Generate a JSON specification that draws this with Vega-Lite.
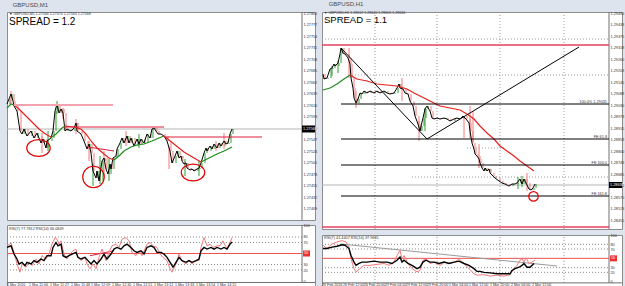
{
"$schema":"https://vega.github.io/schema/vega-lite/v6.json",
"background":"#dde4ed",
"padding":{"left":3,"top":1,"right":5,"bottom":3},
"spacing":1,
"config":{
 "view":{"fill":"#ffffff","stroke":"#8c8c8c","strokeWidth":1},
 "axis":{"domain":false,"ticks":false,"tickSize":0,"grid":false,"labelFontSize":3.8,"labelColor":"#333333","labelFont":"Liberation Sans","labelPadding":-12,"labelAlign":"left","labelBaseline":"middle","minExtent":0,"maxExtent":0,"labelOverlap":false,"labelFlush":false,"labelBound":false},
 "text":{"font":"Liberation Sans"}
},
"datasets":{
 "lp":[{"x":0,"c":1.27618},{"x":2,"c":1.27628},{"x":4,"c":1.27638},{"x":6,"c":1.27624},{"x":7,"c":1.27614},{"x":10,"c":1.27604},{"x":13,"c":1.27564},{"x":15,"c":1.27558},{"x":17,"c":1.27568},{"x":20,"c":1.27554},{"x":24,"c":1.27564},{"x":27,"c":1.2755},{"x":30,"c":1.2756},{"x":34,"c":1.2754},{"x":36,"c":1.27548},{"x":39,"c":1.2753},{"x":40,"c":1.27544},{"x":44,"c":1.2755},{"x":46,"c":1.27564},{"x":48,"c":1.27604},{"x":50,"c":1.27618},{"x":52,"c":1.276},{"x":54,"c":1.27608},{"x":56,"c":1.276},{"x":58,"c":1.27564},{"x":60,"c":1.27568},{"x":64,"c":1.27564},{"x":67,"c":1.2757},{"x":69,"c":1.2758},{"x":70,"c":1.27564},{"x":74,"c":1.27558},{"x":77,"c":1.27544},{"x":80,"c":1.27528},{"x":82,"c":1.27538},{"x":84,"c":1.2752},{"x":86,"c":1.27484},{"x":89,"c":1.2747},{"x":90,"c":1.27484},{"x":92,"c":1.27464},{"x":95,"c":1.27504},{"x":97,"c":1.2751},{"x":99,"c":1.27488},{"x":101,"c":1.27478},{"x":103,"c":1.27498},{"x":104,"c":1.27488},{"x":106,"c":1.2751},{"x":109,"c":1.27514},{"x":110,"c":1.27528},{"x":113,"c":1.2754},{"x":115,"c":1.2755},{"x":117,"c":1.2754},{"x":120,"c":1.27554},{"x":122,"c":1.2754},{"x":124,"c":1.2755},{"x":127,"c":1.27534},{"x":130,"c":1.27548},{"x":132,"c":1.27538},{"x":134,"c":1.27548},{"x":137,"c":1.2754},{"x":140,"c":1.27558},{"x":143,"c":1.2755},{"x":145,"c":1.27568},{"x":147,"c":1.2757},{"x":149,"c":1.27564},{"x":151,"c":1.27558},{"x":154,"c":1.27558},{"x":157,"c":1.27554},{"x":160,"c":1.27544},{"x":163,"c":1.27524},{"x":165,"c":1.275},{"x":168,"c":1.27514},{"x":170,"c":1.27524},{"x":172,"c":1.2751},{"x":174,"c":1.27514},{"x":175,"c":1.27504},{"x":177,"c":1.27498},{"x":179,"c":1.275},{"x":180,"c":1.2749},{"x":183,"c":1.27486},{"x":185,"c":1.27488},{"x":187,"c":1.27484},{"x":190,"c":1.27488},{"x":192,"c":1.2749},{"x":194,"c":1.275},{"x":197,"c":1.2752},{"x":199,"c":1.2753},{"x":200,"c":1.27524},{"x":203,"c":1.27534},{"x":205,"c":1.27528},{"x":207,"c":1.27538},{"x":210,"c":1.2753},{"x":212,"c":1.2754},{"x":214,"c":1.27534},{"x":217,"c":1.27544},{"x":219,"c":1.27538},{"x":221,"c":1.2754},{"x":223,"c":1.27558},{"x":225,"c":1.27568}],
 "lw":[{"x":4,"h":1.27644,"l":1.27618,"d":"dn"},{"x":50,"h":1.27624,"l":1.27598,"d":"up"},{"x":56,"h":1.2761,"l":1.27588,"d":"dn"},{"x":69,"h":1.27588,"l":1.27558,"d":"dn"},{"x":86,"h":1.27498,"l":1.27454,"d":"up"},{"x":93,"h":1.27514,"l":1.27458,"d":"up"},{"x":97,"h":1.27524,"l":1.27474,"d":"dn"},{"x":102,"h":1.27508,"l":1.27464,"d":"up"},{"x":119,"h":1.27564,"l":1.27534,"d":"dn"},{"x":132,"h":1.27558,"l":1.2753,"d":"up"},{"x":41,"h":1.27564,"l":1.27524,"d":"up"},{"x":35,"h":1.27554,"l":1.2752,"d":"dn"},{"x":82,"h":1.27544,"l":1.27504,"d":"dn"},{"x":162,"h":1.27534,"l":1.27488,"d":"dn"},{"x":178,"h":1.27508,"l":1.27474,"d":"up"},{"x":192,"h":1.27504,"l":1.27474,"d":"up"},{"x":209,"h":1.27544,"l":1.27524,"d":"dn"},{"x":217,"h":1.2756,"l":1.27528,"d":"dn"}],
 "lma":[{"x":0,"p":1.2761,"s":"A","d":"up"},{"x":4,"p":1.27618,"s":"A","d":"up"},{"x":7,"p":1.27616,"s":"A","d":"up"},
  {"x":7,"p":1.27616,"s":"B","d":"dn"},{"x":12,"p":1.27608,"s":"B","d":"dn"},{"x":17,"p":1.27598,"s":"B","d":"dn"},{"x":22,"p":1.27588,"s":"B","d":"dn"},{"x":27,"p":1.27578,"s":"B","d":"dn"},{"x":32,"p":1.27568,"s":"B","d":"dn"},{"x":37,"p":1.2756,"s":"B","d":"dn"},{"x":42,"p":1.27554,"s":"B","d":"dn"},{"x":45,"p":1.27552,"s":"B","d":"dn"},
  {"x":45,"p":1.27552,"s":"C","d":"up"},{"x":49,"p":1.27558,"s":"C","d":"up"},{"x":52,"p":1.27564,"s":"C","d":"up"},{"x":55,"p":1.2757,"s":"C","d":"up"},{"x":58,"p":1.27574,"s":"C","d":"up"},
  {"x":58,"p":1.27574,"s":"D","d":"dn"},{"x":67,"p":1.27572,"s":"D","d":"dn"},{"x":74,"p":1.27568,"s":"D","d":"dn"},{"x":79,"p":1.27558,"s":"D","d":"dn"},{"x":84,"p":1.27544,"s":"D","d":"dn"},{"x":90,"p":1.2753,"s":"D","d":"dn"},{"x":97,"p":1.27518,"s":"D","d":"dn"},{"x":102,"p":1.2751,"s":"D","d":"dn"},{"x":107,"p":1.27506,"s":"D","d":"dn"},
  {"x":107,"p":1.27506,"s":"E","d":"up"},{"x":112,"p":1.27514,"s":"E","d":"up"},{"x":117,"p":1.27524,"s":"E","d":"up"},{"x":124,"p":1.27532,"s":"E","d":"up"},{"x":130,"p":1.27536,"s":"E","d":"up"},{"x":137,"p":1.27538,"s":"E","d":"up"},{"x":145,"p":1.27544,"s":"E","d":"up"},{"x":152,"p":1.2755,"s":"E","d":"up"},{"x":157,"p":1.27554,"s":"E","d":"up"},
  {"x":157,"p":1.27554,"s":"F","d":"dn"},{"x":162,"p":1.27546,"s":"F","d":"dn"},{"x":167,"p":1.27538,"s":"F","d":"dn"},{"x":172,"p":1.2753,"s":"F","d":"dn"},{"x":177,"p":1.27522,"s":"F","d":"dn"},{"x":182,"p":1.27516,"s":"F","d":"dn"},{"x":187,"p":1.2751,"s":"F","d":"dn"},{"x":194,"p":1.27502,"s":"F","d":"dn"},
  {"x":194,"p":1.27502,"s":"G","d":"up"},{"x":202,"p":1.2751,"s":"G","d":"up"},{"x":210,"p":1.27518,"s":"G","d":"up"},{"x":217,"p":1.27524,"s":"G","d":"up"},{"x":225,"p":1.27532,"s":"G","d":"up"}],
 "ll0":[{"x":0,"x2":295,"p":1.27568,"p2":1.27568,"k":"cur"},{"x":295,"x2":295,"p":1.27386,"p2":1.27802,"k":"sep"}],
 "ll":[{"x":7,"x2":106,"p":1.27616,"p2":1.27616,"k":"pink"},{"x":57,"x2":157,"p":1.27572,"p2":1.27572,"k":"crim"},{"x":157,"x2":255,"p":1.27552,"p2":1.27552,"k":"crim"},{"x":81,"x2":107,"p":1.27532,"p2":1.27524,"k":"crim"}],
 "le":[{"x":31.5,"p":1.2753},{"x":186,"p":1.27481}],
 "lc":[{"x":86.5,"p":1.27472}],
 "lr":[{"x":0,"v":61,"k":"a"},{"x":4,"v":64,"k":"a"},{"x":7,"v":49,"k":"a"},{"x":10,"v":40,"k":"a"},{"x":12,"v":31,"k":"a"},{"x":15,"v":34,"k":"a"},{"x":18,"v":28,"k":"a"},{"x":20,"v":34,"k":"a"},{"x":24,"v":31,"k":"a"},{"x":27,"v":37,"k":"a"},{"x":30,"v":34,"k":"a"},{"x":34,"v":40,"k":"a"},{"x":37,"v":37,"k":"a"},{"x":40,"v":46,"k":"a"},{"x":44,"v":46,"k":"a"},{"x":46,"v":61,"k":"a"},{"x":49,"v":70,"k":"a"},{"x":51,"v":64,"k":"a"},{"x":54,"v":67,"k":"a"},{"x":56,"v":46,"k":"a"},{"x":59,"v":43,"k":"a"},{"x":62,"v":46,"k":"a"},{"x":65,"v":49,"k":"a"},{"x":69,"v":52,"k":"a"},{"x":71,"v":43,"k":"a"},{"x":74,"v":40,"k":"a"},{"x":78,"v":43,"k":"a"},{"x":81,"v":37,"k":"a"},{"x":84,"v":31,"k":"a"},{"x":87,"v":37,"k":"a"},{"x":90,"v":31,"k":"a"},{"x":94,"v":40,"k":"a"},{"x":97,"v":49,"k":"a"},{"x":100,"v":40,"k":"a"},{"x":104,"v":49,"k":"a"},{"x":107,"v":58,"k":"a"},{"x":110,"v":61,"k":"a"},{"x":114,"v":58,"k":"a"},{"x":117,"v":64,"k":"a"},{"x":120,"v":67,"k":"a"},{"x":124,"v":61,"k":"a"},{"x":127,"v":55,"k":"a"},{"x":130,"v":52,"k":"a"},{"x":134,"v":55,"k":"a"},{"x":137,"v":49,"k":"a"},{"x":140,"v":61,"k":"a"},{"x":144,"v":64,"k":"a"},{"x":147,"v":61,"k":"a"},{"x":150,"v":52,"k":"a"},{"x":154,"v":52,"k":"a"},{"x":157,"v":49,"k":"a"},{"x":160,"v":43,"k":"a"},{"x":164,"v":31,"k":"a"},{"x":166,"v":25,"k":"a"},{"x":169,"v":34,"k":"a"},{"x":172,"v":43,"k":"a"},{"x":175,"v":37,"k":"a"},{"x":179,"v":34,"k":"a"},{"x":182,"v":37,"k":"a"},{"x":185,"v":34,"k":"a"},{"x":189,"v":37,"k":"a"},{"x":192,"v":40,"k":"a"},{"x":194,"v":55,"k":"a"},{"x":197,"v":61,"k":"a"},{"x":200,"v":58,"k":"a"},{"x":204,"v":61,"k":"a"},{"x":207,"v":58,"k":"a"},{"x":210,"v":61,"k":"a"},{"x":214,"v":58,"k":"a"},{"x":217,"v":61,"k":"a"},{"x":220,"v":58,"k":"a"},{"x":223,"v":67,"k":"a"},{"x":225,"v":71,"k":"a"},
  {"x":0,"v":64,"k":"b"},{"x":4,"v":69,"k":"b"},{"x":7,"v":52,"k":"b"},{"x":10,"v":31,"k":"b"},{"x":13,"v":16,"k":"b"},{"x":15,"v":31,"k":"b"},{"x":19,"v":25,"k":"b"},{"x":22,"v":34,"k":"b"},{"x":25,"v":28,"k":"b"},{"x":29,"v":40,"k":"b"},{"x":32,"v":31,"k":"b"},{"x":35,"v":46,"k":"b"},{"x":39,"v":40,"k":"b"},{"x":42,"v":49,"k":"b"},{"x":45,"v":67,"k":"b"},{"x":48,"v":79,"k":"b"},{"x":50,"v":76,"k":"b"},{"x":52,"v":67,"k":"b"},{"x":54,"v":73,"k":"b"},{"x":57,"v":49,"k":"b"},{"x":60,"v":40,"k":"b"},{"x":63,"v":49,"k":"b"},{"x":66,"v":55,"k":"b"},{"x":69,"v":58,"k":"b"},{"x":71,"v":43,"k":"b"},{"x":74,"v":37,"k":"b"},{"x":78,"v":43,"k":"b"},{"x":80,"v":31,"k":"b"},{"x":83,"v":22,"k":"b"},{"x":86,"v":31,"k":"b"},{"x":89,"v":22,"k":"b"},{"x":92,"v":43,"k":"b"},{"x":95,"v":58,"k":"b"},{"x":99,"v":37,"k":"b"},{"x":102,"v":52,"k":"b"},{"x":105,"v":64,"k":"b"},{"x":109,"v":67,"k":"b"},{"x":112,"v":61,"k":"b"},{"x":115,"v":76,"k":"b"},{"x":119,"v":79,"k":"b"},{"x":122,"v":73,"k":"b"},{"x":125,"v":52,"k":"b"},{"x":129,"v":46,"k":"b"},{"x":132,"v":55,"k":"b"},{"x":135,"v":46,"k":"b"},{"x":140,"v":67,"k":"b"},{"x":143,"v":70,"k":"b"},{"x":146,"v":64,"k":"b"},{"x":150,"v":61,"k":"b"},{"x":153,"v":49,"k":"b"},{"x":156,"v":43,"k":"b"},{"x":160,"v":37,"k":"b"},{"x":163,"v":22,"k":"b"},{"x":165,"v":16,"k":"b"},{"x":169,"v":31,"k":"b"},{"x":172,"v":49,"k":"b"},{"x":175,"v":37,"k":"b"},{"x":179,"v":31,"k":"b"},{"x":182,"v":37,"k":"b"},{"x":185,"v":31,"k":"b"},{"x":189,"v":37,"k":"b"},{"x":192,"v":37,"k":"b"},{"x":194,"v":61,"k":"b"},{"x":197,"v":79,"k":"b"},{"x":200,"v":64,"k":"b"},{"x":203,"v":67,"k":"b"},{"x":206,"v":61,"k":"b"},{"x":210,"v":64,"k":"b"},{"x":213,"v":64,"k":"b"},{"x":216,"v":73,"k":"b"},{"x":220,"v":58,"k":"b"},{"x":223,"v":70,"k":"b"},{"x":225,"v":79,"k":"b"}],
 "lrd":[{"x":0,"x2":295,"v":80,"v2":80},{"x":0,"x2":295,"v":70,"v2":70},{"x":0,"x2":295,"v":30,"v2":30},{"x":0,"x2":295,"v":20,"v2":20}],
 "lrs":[{"x":0,"x2":295,"v":50,"v2":50,"k":"red"},{"x":83,"x2":107,"v":46,"v2":55,"k":"crim"},{"x":295,"x2":295,"v":-2.7,"v2":101.8,"k":"sep"},{"x":0,"x2":308,"v":-2.7,"v2":-2.7,"k":"sep"}],
 "lt":[{"x":0,"t":"1 Mar 2016"},{"x":22,"t":"1 Mar 11:06"},{"x":43,"t":"1 Mar 11:27"},{"x":64,"t":"1 Mar 11:48"},{"x":84,"t":"1 Mar 12:09"},{"x":105,"t":"1 Mar 12:30"},{"x":126,"t":"1 Mar 12:51"},{"x":147,"t":"1 Mar 13:12"},{"x":168,"t":"1 Mar 13:33"},{"x":189,"t":"1 Mar 13:54"},{"x":210,"t":"1 Mar 14:15"}],
 "rp":[{"x":1,"c":1.29185},{"x":2,"c":1.2916},{"x":5,"c":1.29165},{"x":8,"c":1.2921},{"x":10,"c":1.29215},{"x":12,"c":1.29235},{"x":13,"c":1.29225},{"x":16,"c":1.2924},{"x":18,"c":1.29285},{"x":19,"c":1.29315},{"x":21,"c":1.2929},{"x":23,"c":1.29285},{"x":26,"c":1.29265},{"x":28,"c":1.29235},{"x":29,"c":1.29165},{"x":31,"c":1.29115},{"x":32,"c":1.29065},{"x":34,"c":1.2904},{"x":36,"c":1.2906},{"x":38,"c":1.2909},{"x":40,"c":1.29085},{"x":42,"c":1.291},{"x":45,"c":1.2909},{"x":48,"c":1.291},{"x":52,"c":1.2909},{"x":55,"c":1.291},{"x":58,"c":1.2909},{"x":62,"c":1.291},{"x":65,"c":1.2909},{"x":68,"c":1.29085},{"x":72,"c":1.2909},{"x":75,"c":1.29115},{"x":77,"c":1.29135},{"x":78,"c":1.29115},{"x":81,"c":1.2911},{"x":83,"c":1.2909},{"x":86,"c":1.29085},{"x":88,"c":1.2905},{"x":91,"c":1.29025},{"x":93,"c":1.28975},{"x":96,"c":1.28935},{"x":98,"c":1.289},{"x":99,"c":1.28925},{"x":101,"c":1.28965},{"x":103,"c":1.2901},{"x":105,"c":1.29025},{"x":108,"c":1.29},{"x":110,"c":1.28965},{"x":112,"c":1.2896},{"x":115,"c":1.28965},{"x":118,"c":1.2896},{"x":122,"c":1.28965},{"x":125,"c":1.2896},{"x":128,"c":1.2895},{"x":132,"c":1.2896},{"x":135,"c":1.28965},{"x":138,"c":1.2896},{"x":141,"c":1.28975},{"x":144,"c":1.2896},{"x":147,"c":1.2894},{"x":148,"c":1.289},{"x":150,"c":1.2884},{"x":152,"c":1.2881},{"x":153,"c":1.28785},{"x":155,"c":1.28775},{"x":157,"c":1.2876},{"x":158,"c":1.2874},{"x":160,"c":1.28715},{"x":162,"c":1.287},{"x":163,"c":1.28715},{"x":165,"c":1.287},{"x":167,"c":1.2871},{"x":168,"c":1.2869},{"x":171,"c":1.28675},{"x":173,"c":1.28665},{"x":177,"c":1.2865},{"x":180,"c":1.2864},{"x":183,"c":1.28635},{"x":187,"c":1.28625},{"x":190,"c":1.28635},{"x":193,"c":1.28635},{"x":195,"c":1.2864},{"x":198,"c":1.2866},{"x":200,"c":1.28635},{"x":202,"c":1.2866},{"x":204,"c":1.2864},{"x":207,"c":1.2861},{"x":209,"c":1.28605},{"x":211,"c":1.28615},{"x":213,"c":1.28635}],
 "rw":[{"x":27,"h":1.29315,"l":1.29165,"d":"dn"},{"x":34,"h":1.291,"l":1.29015,"d":"dn"},{"x":80,"h":1.29165,"l":1.2905,"d":"dn"},{"x":97,"h":1.2895,"l":1.2885,"d":"dn"},{"x":142,"h":1.28975,"l":1.28865,"d":"dn"},{"x":148,"h":1.29025,"l":1.28865,"d":"dn"},{"x":151,"h":1.29,"l":1.2885,"d":"dn"},{"x":157,"h":1.28835,"l":1.28715,"d":"dn"},{"x":103,"h":1.29015,"l":1.289,"d":"up"},{"x":16,"h":1.2925,"l":1.2919,"d":"up"},{"x":10,"h":1.29225,"l":1.29175,"d":"up"},{"x":200,"h":1.28675,"l":1.2862,"d":"up"},{"x":205,"h":1.2869,"l":1.286,"d":"dn"},{"x":196,"h":1.2867,"l":1.2861,"d":"up"}],
 "rma":[{"x":1,"p":1.29105,"s":"G","d":"up"},{"x":8,"p":1.29115,"s":"G","d":"up"},{"x":15,"p":1.29135,"s":"G","d":"up"},{"x":22,"p":1.2916,"s":"G","d":"up"},{"x":28,"p":1.2918,"s":"G","d":"up"},
  {"x":28,"p":1.2918,"s":"R","d":"dn"},{"x":35,"p":1.2916,"s":"R","d":"dn"},{"x":45,"p":1.2915,"s":"R","d":"dn"},{"x":55,"p":1.29135,"s":"R","d":"dn"},{"x":65,"p":1.2913,"s":"R","d":"dn"},{"x":75,"p":1.29125,"s":"R","d":"dn"},{"x":85,"p":1.2911,"s":"R","d":"dn"},{"x":92,"p":1.2909,"s":"R","d":"dn"},{"x":98,"p":1.29075,"s":"R","d":"dn"},{"x":108,"p":1.2905,"s":"R","d":"dn"},{"x":118,"p":1.29025,"s":"R","d":"dn"},{"x":128,"p":1.29015,"s":"R","d":"dn"},{"x":138,"p":1.29005,"s":"R","d":"dn"},{"x":145,"p":1.28985,"s":"R","d":"dn"},{"x":152,"p":1.2896,"s":"R","d":"dn"},{"x":158,"p":1.28925,"s":"R","d":"dn"},{"x":165,"p":1.2889,"s":"R","d":"dn"},{"x":172,"p":1.2886,"s":"R","d":"dn"},{"x":178,"p":1.28825,"s":"R","d":"dn"},{"x":185,"p":1.288,"s":"R","d":"dn"},{"x":192,"p":1.28775,"s":"R","d":"dn"},{"x":198,"p":1.2875,"s":"R","d":"dn"},{"x":205,"p":1.28725,"s":"R","d":"dn"},{"x":212,"p":1.287,"s":"R","d":"dn"}],
 "rd":[{"x":0,"x2":287,"p":1.2936,"p2":1.2936},{"x":30,"x2":287,"p":1.2918,"p2":1.2918},{"x":145,"x2":184,"p":1.28815,"p2":1.28815},{"x":90,"x2":287,"p":1.2867,"p2":1.2867},{"x":53,"x2":53,"p":1.2841,"p2":1.29495},{"x":115,"x2":115,"p":1.2841,"p2":1.29495},{"x":178,"x2":178,"p":1.2841,"p2":1.29495},{"x":242,"x2":242,"p":1.2841,"p2":1.29495}],
 "rl0":[{"x":0,"x2":287,"p":1.2863,"p2":1.2863,"k":"cur"},{"x":287,"x2":287,"p":1.2841,"p2":1.29495,"k":"sep"}],
 "rl":[{"x":0,"x2":287,"p":1.2933,"p2":1.2933,"k":"crim"},{"x":0,"x2":287,"p":1.2842,"p2":1.2842,"k":"crim"},{"x":19,"x2":105,"p":1.29315,"p2":1.2886,"k":"blk"},{"x":105,"x2":257,"p":1.2886,"p2":1.2932,"k":"blk"},{"x":19,"x2":287,"p":1.29035,"p2":1.29035,"k":"blk"},{"x":19,"x2":287,"p":1.2886,"p2":1.2886,"k":"blk"},{"x":19,"x2":287,"p":1.2873,"p2":1.2873,"k":"blk"},{"x":19,"x2":287,"p":1.28575,"p2":1.28575,"k":"blk"}],
 "rfe":[{"p":1.29035,"t":"100.0%  1.29035"},{"p":1.2886,"t":"FE 61.8"},{"p":1.2873,"t":"FE 100.0"},{"p":1.28575,"t":"FE 161.8"}],
 "rc":[{"x":211.5,"p":1.28573}],
 "rr":[{"x":1,"v":71,"k":"a"},{"x":5,"v":71,"k":"a"},{"x":10,"v":74,"k":"a"},{"x":15,"v":76,"k":"a"},{"x":20,"v":79,"k":"a"},{"x":23,"v":78,"k":"a"},{"x":27,"v":71,"k":"a"},{"x":29,"v":56,"k":"a"},{"x":32,"v":42,"k":"a"},{"x":34,"v":35,"k":"a"},{"x":37,"v":39,"k":"a"},{"x":40,"v":42,"k":"a"},{"x":45,"v":42,"k":"a"},{"x":52,"v":44,"k":"a"},{"x":58,"v":42,"k":"a"},{"x":65,"v":42,"k":"a"},{"x":70,"v":39,"k":"a"},{"x":75,"v":46,"k":"a"},{"x":78,"v":53,"k":"a"},{"x":80,"v":42,"k":"a"},{"x":82,"v":46,"k":"a"},{"x":86,"v":39,"k":"a"},{"x":90,"v":35,"k":"a"},{"x":95,"v":28,"k":"a"},{"x":98,"v":31,"k":"a"},{"x":101,"v":42,"k":"a"},{"x":104,"v":46,"k":"a"},{"x":108,"v":42,"k":"a"},{"x":112,"v":42,"k":"a"},{"x":117,"v":39,"k":"a"},{"x":122,"v":42,"k":"a"},{"x":127,"v":39,"k":"a"},{"x":132,"v":42,"k":"a"},{"x":137,"v":44,"k":"a"},{"x":142,"v":39,"k":"a"},{"x":147,"v":35,"k":"a"},{"x":152,"v":28,"k":"a"},{"x":155,"v":22,"k":"a"},{"x":158,"v":22,"k":"a"},{"x":162,"v":20,"k":"a"},{"x":168,"v":19,"k":"a"},{"x":175,"v":17,"k":"a"},{"x":182,"v":17,"k":"a"},{"x":188,"v":17,"k":"a"},{"x":190,"v":24,"k":"a"},{"x":193,"v":28,"k":"a"},{"x":197,"v":31,"k":"a"},{"x":200,"v":35,"k":"a"},{"x":202,"v":39,"k":"a"},{"x":205,"v":31,"k":"a"},{"x":208,"v":31,"k":"a"},{"x":212,"v":39,"k":"a"},
  {"x":1,"v":78,"k":"b"},{"x":5,"v":71,"k":"b"},{"x":10,"v":81,"k":"b"},{"x":15,"v":85,"k":"b"},{"x":20,"v":88,"k":"b"},{"x":24,"v":85,"k":"b"},{"x":27,"v":74,"k":"b"},{"x":29,"v":49,"k":"b"},{"x":32,"v":28,"k":"b"},{"x":34,"v":21,"k":"b"},{"x":38,"v":28,"k":"b"},{"x":42,"v":35,"k":"b"},{"x":48,"v":35,"k":"b"},{"x":55,"v":37,"k":"b"},{"x":62,"v":39,"k":"b"},{"x":67,"v":35,"k":"b"},{"x":72,"v":42,"k":"b"},{"x":75,"v":56,"k":"b"},{"x":78,"v":67,"k":"b"},{"x":80,"v":49,"k":"b"},{"x":82,"v":56,"k":"b"},{"x":86,"v":39,"k":"b"},{"x":90,"v":28,"k":"b"},{"x":95,"v":21,"k":"b"},{"x":98,"v":24,"k":"b"},{"x":101,"v":46,"k":"b"},{"x":104,"v":49,"k":"b"},{"x":108,"v":39,"k":"b"},{"x":113,"v":42,"k":"b"},{"x":118,"v":35,"k":"b"},{"x":123,"v":42,"k":"b"},{"x":128,"v":39,"k":"b"},{"x":133,"v":42,"k":"b"},{"x":137,"v":49,"k":"b"},{"x":142,"v":39,"k":"b"},{"x":147,"v":28,"k":"b"},{"x":152,"v":17,"k":"b"},{"x":155,"v":14,"k":"b"},{"x":162,"v":15,"k":"b"},{"x":168,"v":12,"k":"b"},{"x":175,"v":14,"k":"b"},{"x":182,"v":12,"k":"b"},{"x":188,"v":15,"k":"b"},{"x":192,"v":28,"k":"b"},{"x":195,"v":35,"k":"b"},{"x":198,"v":46,"k":"b"},{"x":200,"v":49,"k":"b"},{"x":202,"v":42,"k":"b"},{"x":204,"v":51,"k":"b"},{"x":207,"v":39,"k":"b"},{"x":210,"v":42,"k":"b"},{"x":213,"v":46,"k":"b"}],
 "rrd":[{"x":0,"x2":287,"v":80,"v2":80},{"x":0,"x2":287,"v":70,"v2":70},{"x":0,"x2":287,"v":30,"v2":30},{"x":0,"x2":287,"v":20,"v2":20},{"x":53,"x2":53,"v":-2.5,"v2":100},{"x":115,"x2":115,"v":-2.5,"v2":100},{"x":178,"x2":178,"v":-2.5,"v2":100},{"x":242,"x2":242,"v":-2.5,"v2":100}],
 "rrs":[{"x":0,"x2":287,"v":50,"v2":50,"k":"red"},{"x":19,"x2":235,"v":80.7,"v2":33.6,"k":"gray"},{"x":287,"x2":287,"v":-2.5,"v2":100,"k":"sep"},{"x":0,"x2":300,"v":-2.5,"v2":-2.5,"k":"sep"}],
 "rt":[{"x":0,"t":"26 Feb 2016"},{"x":21,"t":"26 Feb 12:00"},{"x":42,"t":"26 Feb 20:00"},{"x":63,"t":"29 Feb 04:00"},{"x":84,"t":"29 Feb 12:00"},{"x":105,"t":"29 Feb 20:00"},{"x":127,"t":"1 Mar 04:00"},{"x":147,"t":"1 Mar 12:00"},{"x":168,"t":"1 Mar 20:00"},{"x":189,"t":"2 Mar 04:00"},{"x":210,"t":"2 Mar 12:00"}]
},
"hconcat":[
 {"title":{"text":"GBPUSD,M1","anchor":"start","fontSize":6,"fontWeight":"normal","color":"#4a4a4a","offset":3,"dx":9,"font":"Liberation Sans"},
  "spacing":2,
  "vconcat":[
   {"width":308,"height":208,
    "resolve":{"axis":{"x":"independent","y":"independent"}},
    "layer":[
     {"data":{"name":"ll0"},"mark":{"type":"rule"},
      "encoding":{"x":{"field":"x","type":"quantitative","scale":{"domain":[0,308],"nice":false,"zero":false},"axis":null},"x2":{"field":"x2"},
       "y":{"field":"p","type":"quantitative","scale":{"domain":[1.27386,1.27802],"nice":false,"zero":false},"axis":{"title":null,"orient":"right","format":".5f","values":[1.278,1.27777,1.27754,1.27731,1.27708,1.27685,1.27662,1.27639,1.27616,1.27593,1.2757,1.27547,1.27524,1.27501,1.27478,1.27455,1.27432,1.27409]}},"y2":{"field":"p2"},
       "color":{"condition":{"test":"datum.k == 'cur'","value":"#b4b4b4"},"value":"#707070"}}},
     {"data":{"name":"lp"},"transform":[{"window":[{"op":"lag","field":"c","as":"pc"}],"sort":[{"field":"x","order":"ascending"}]},{"filter":"datum.pc != null"}],
      "mark":{"type":"rule","strokeWidth":1,"xOffset":1},
      "encoding":{"x":{"field":"x","type":"quantitative","axis":null},"y":{"field":"pc","type":"quantitative","axis":null},"y2":{"field":"c"},
       "color":{"condition":{"test":"datum.c >= datum.pc","value":"#2e9a2e"},"value":"#f47a7a"}}},
     {"data":{"name":"lw"},"mark":{"type":"rule","strokeWidth":1},
      "encoding":{"x":{"field":"x","type":"quantitative","axis":null},"y":{"field":"h","type":"quantitative","axis":null},"y2":{"field":"l"},
       "color":{"condition":{"test":"datum.d == 'up'","value":"#2e9a2e"},"value":"#f47a7a"}}},
     {"data":{"name":"lp"},"mark":{"type":"line","color":"#000000","strokeWidth":1},
      "encoding":{"x":{"field":"x","type":"quantitative","axis":null},"y":{"field":"c","type":"quantitative","axis":null}}},
     {"data":{"name":"lma"},"mark":{"type":"line","strokeWidth":1.2},
      "encoding":{"x":{"field":"x","type":"quantitative","axis":null},"y":{"field":"p","type":"quantitative","axis":null},"detail":{"field":"s"},
       "color":{"condition":{"test":"datum.d == 'up'","value":"#1e8c1e"},"value":"#e8201c"}}},
     {"data":{"name":"ll"},"mark":{"type":"rule"},
      "encoding":{"x":{"field":"x","type":"quantitative","axis":null},"x2":{"field":"x2"},"y":{"field":"p","type":"quantitative","axis":null},"y2":{"field":"p2"},
       "color":{"condition":{"test":"datum.k == 'pink'","value":"#f4a3ae"},"value":"#dc1e3c"},
       "strokeWidth":{"condition":{"test":"datum.k == 'pink'","value":2},"value":1}}},
     {"data":{"name":"le"},"mark":{"type":"point","shape":"M-1,0C-1,-0.398,-0.552,-0.72,0,-0.72C0.552,-0.72,1,-0.398,1,0C1,0.398,0.552,0.72,0,0.72C-0.552,0.72,-1,0.398,-1,0Z","filled":false,"size":552,"color":"#e00000","strokeWidth":1.2,"opacity":1},
      "encoding":{"x":{"field":"x","type":"quantitative","axis":null},"y":{"field":"p","type":"quantitative","axis":null}}},
     {"data":{"name":"lc"},"mark":{"type":"point","shape":"circle","filled":false,"size":462,"color":"#e00000","strokeWidth":1.2,"opacity":1},
      "encoding":{"x":{"field":"x","type":"quantitative","axis":null},"y":{"field":"p","type":"quantitative","axis":null}}},
     {"data":{"values":[{"t":"1.27568"}]},"mark":{"type":"rect","color":"#000000"},
      "encoding":{"x":{"datum":295,"axis":null},"x2":{"datum":308},"y":{"datum":1.27575,"axis":null},"y2":{"datum":1.27561}}},
     {"data":{"values":[{"t":"1.27568"}]},"mark":{"type":"text","align":"left","baseline":"middle","fontSize":3.8,"color":"#ffffff"},
      "encoding":{"x":{"datum":296,"axis":null},"y":{"datum":1.27568,"axis":null},"text":{"field":"t"}}},
     {"data":{"values":[{"t":"\u25bc GBPUSD,M1  1.27566 1.27570 1.27563 1.27568"}]},"mark":{"type":"text","align":"left","baseline":"middle","fontSize":3.6,"color":"#333333"},
      "encoding":{"x":{"datum":2,"axis":null},"y":{"datum":1.27798,"axis":null},"text":{"field":"t"}}},
     {"data":{"values":[{"t":"SPREAD = 1.2"}]},"mark":{"type":"text","align":"left","baseline":"middle","fontSize":10,"color":"#000000"},
      "encoding":{"x":{"datum":2,"axis":null},"y":{"datum":1.27783,"axis":null},"text":{"field":"t"}}}
    ]},
   {"width":308,"height":62,
    "resolve":{"axis":{"x":"independent","y":"independent"}},
    "layer":[
     {"data":{"name":"lrd"},"mark":{"type":"rule","color":"#8a8a8a","strokeDash":[1,2],"strokeWidth":1},
      "encoding":{"x":{"field":"x","type":"quantitative","scale":{"domain":[0,308],"nice":false,"zero":false},"axis":null},"x2":{"field":"x2"},
       "y":{"field":"v","type":"quantitative","scale":{"domain":[-10.9,101.8],"nice":false,"zero":false},"axis":{"title":null,"orient":"right","format":"d","values":[100,80,70,30,20,0]}},"y2":{"field":"v2"}}},
     {"data":{"name":"lrs"},"mark":{"type":"rule","strokeWidth":1},
      "encoding":{"x":{"field":"x","type":"quantitative","axis":null},"x2":{"field":"x2"},"y":{"field":"v","type":"quantitative","axis":null},"y2":{"field":"v2"},
       "color":{"condition":[{"test":"datum.k == 'red'","value":"#f05050"},{"test":"datum.k == 'crim'","value":"#dc1e3c"}],"value":"#707070"}}},
     {"data":{"name":"lr"},"transform":[{"filter":"datum.k == 'b'"}],"mark":{"type":"line","color":"#f47a7a","strokeWidth":1},
      "encoding":{"x":{"field":"x","type":"quantitative","axis":null},"y":{"field":"v","type":"quantitative","axis":null}}},
     {"data":{"name":"lr"},"transform":[{"filter":"datum.k == 'a'"}],"mark":{"type":"line","color":"#000000","strokeWidth":1.4},
      "encoding":{"x":{"field":"x","type":"quantitative","axis":null},"y":{"field":"v","type":"quantitative","axis":null}}},
     {"data":{"values":[{"t":"50"}]},"mark":{"type":"rect","color":"#f03030"},
      "encoding":{"x":{"datum":296,"axis":null},"x2":{"datum":303},"y":{"datum":55.5,"axis":null},"y2":{"datum":44.5}}},
     {"data":{"values":[{"t":"50"}]},"mark":{"type":"text","align":"left","baseline":"middle","fontSize":3.8,"color":"#ffffff"},
      "encoding":{"x":{"datum":297,"axis":null},"y":{"datum":50,"axis":null},"text":{"field":"t"}}},
     {"data":{"values":[{"t":"RSI(7) 77.7812 RSI(14) 66.0849"}]},"mark":{"type":"text","align":"left","baseline":"middle","fontSize":3.8,"color":"#333333"},
      "encoding":{"x":{"datum":2,"axis":null},"y":{"datum":95,"axis":null},"text":{"field":"t"}}},
     {"data":{"name":"lt"},"mark":{"type":"text","align":"left","baseline":"middle","fontSize":3.6,"color":"#333333"},
      "encoding":{"x":{"field":"x","type":"quantitative","axis":null},"y":{"datum":-7.3,"axis":null},"text":{"field":"t"}}}
    ]}
  ]},
 {"title":{"text":"GBPUSD,H1","anchor":"start","fontSize":6,"fontWeight":"normal","color":"#4a4a4a","offset":3,"dx":9,"font":"Liberation Sans"},
  "spacing":2,
  "vconcat":[
   {"width":300,"height":217,
    "resolve":{"axis":{"x":"independent","y":"independent"}},
    "layer":[
     {"data":{"name":"rd"},"mark":{"type":"rule","color":"#9a9a9a","strokeDash":[1,2],"strokeWidth":1},
      "encoding":{"x":{"field":"x","type":"quantitative","scale":{"domain":[0,300],"nice":false,"zero":false},"axis":null},"x2":{"field":"x2"},
       "y":{"field":"p","type":"quantitative","scale":{"domain":[1.2841,1.29495],"nice":false,"zero":false},"axis":{"title":null,"orient":"right","format":".5f","values":[1.2949,1.29433,1.29375,1.29318,1.2926,1.29203,1.29145,1.29088,1.2903,1.28973,1.28915,1.28858,1.288,1.28743,1.28685,1.28628,1.2857,1.28513,1.28455]}},"y2":{"field":"p2"}}},
     {"data":{"name":"rl0"},"mark":{"type":"rule"},
      "encoding":{"x":{"field":"x","type":"quantitative","axis":null},"x2":{"field":"x2"},"y":{"field":"p","type":"quantitative","axis":null},"y2":{"field":"p2"},
       "color":{"condition":{"test":"datum.k == 'cur'","value":"#b4b4b4"},"value":"#707070"}}},
     {"data":{"name":"rp"},"transform":[{"window":[{"op":"lag","field":"c","as":"pc"}],"sort":[{"field":"x","order":"ascending"}]},{"filter":"datum.pc != null"}],
      "mark":{"type":"rule","strokeWidth":1,"xOffset":1},
      "encoding":{"x":{"field":"x","type":"quantitative","axis":null},"y":{"field":"pc","type":"quantitative","axis":null},"y2":{"field":"c"},
       "color":{"condition":{"test":"datum.c >= datum.pc","value":"#2e9a2e"},"value":"#f47a7a"}}},
     {"data":{"name":"rw"},"mark":{"type":"rule","strokeWidth":1},
      "encoding":{"x":{"field":"x","type":"quantitative","axis":null},"y":{"field":"h","type":"quantitative","axis":null},"y2":{"field":"l"},
       "color":{"condition":{"test":"datum.d == 'up'","value":"#2e9a2e"},"value":"#f47a7a"}}},
     {"data":{"name":"rp"},"mark":{"type":"line","color":"#000000","strokeWidth":1},
      "encoding":{"x":{"field":"x","type":"quantitative","axis":null},"y":{"field":"c","type":"quantitative","axis":null}}},
     {"data":{"name":"rma"},"mark":{"type":"line","strokeWidth":1.2},
      "encoding":{"x":{"field":"x","type":"quantitative","axis":null},"y":{"field":"p","type":"quantitative","axis":null},"detail":{"field":"s"},
       "color":{"condition":{"test":"datum.d == 'up'","value":"#1e8c1e"},"value":"#e8201c"}}},
     {"data":{"name":"rl"},"mark":{"type":"rule"},
      "encoding":{"x":{"field":"x","type":"quantitative","axis":null},"x2":{"field":"x2"},"y":{"field":"p","type":"quantitative","axis":null},"y2":{"field":"p2"},
       "color":{"condition":{"test":"datum.k == 'crim'","value":"#e4405e"},"value":"#000000"},
       "strokeWidth":{"condition":{"test":"datum.k == 'crim'","value":1.5},"value":1}}},
     {"data":{"name":"rc"},"mark":{"type":"point","shape":"circle","filled":false,"size":90,"color":"#e00000","strokeWidth":1.2,"opacity":1},
      "encoding":{"x":{"field":"x","type":"quantitative","axis":null},"y":{"field":"p","type":"quantitative","axis":null}}},
     {"data":{"name":"rfe"},"mark":{"type":"text","align":"right","baseline":"bottom","fontSize":3.8,"color":"#333333","dy":-0.5},
      "encoding":{"x":{"datum":285,"axis":null},"y":{"field":"p","type":"quantitative","axis":null},"text":{"field":"t"}}},
     {"data":{"values":[{"t":"1.28630"}]},"mark":{"type":"rect","color":"#000000"},
      "encoding":{"x":{"datum":287,"axis":null},"x2":{"datum":300},"y":{"datum":1.28645,"axis":null},"y2":{"datum":1.28615}}},
     {"data":{"values":[{"t":"1.28630"}]},"mark":{"type":"text","align":"left","baseline":"middle","fontSize":3.8,"color":"#ffffff"},
      "encoding":{"x":{"datum":288,"axis":null},"y":{"datum":1.2863,"axis":null},"text":{"field":"t"}}},
     {"data":{"values":[{"t":"\u25bc GBPUSD,H1  1.28612 1.28640 1.28605 1.28630"}]},"mark":{"type":"text","align":"left","baseline":"middle","fontSize":3.6,"color":"#333333"},
      "encoding":{"x":{"datum":2,"axis":null},"y":{"datum":1.29492,"axis":null},"text":{"field":"t"}}},
     {"data":{"values":[{"t":"SPREAD = 1.1"}]},"mark":{"type":"text","align":"left","baseline":"middle","fontSize":9.5,"color":"#000000"},
      "encoding":{"x":{"datum":2,"axis":null},"y":{"datum":1.29454,"axis":null},"text":{"field":"t"}}}
    ]},
   {"width":300,"height":53,
    "resolve":{"axis":{"x":"independent","y":"independent"}},
    "layer":[
     {"data":{"name":"rrd"},"mark":{"type":"rule","color":"#8a8a8a","strokeDash":[1,2],"strokeWidth":1},
      "encoding":{"x":{"field":"x","type":"quantitative","scale":{"domain":[0,300],"nice":false,"zero":false},"axis":null},"x2":{"field":"x2"},
       "y":{"field":"v","type":"quantitative","scale":{"domain":[-13.5,100],"nice":false,"zero":false},"axis":{"title":null,"orient":"right","format":"d","values":[100,80,70,30,20,0]}},"y2":{"field":"v2"}}},
     {"data":{"name":"rrs"},"mark":{"type":"rule","strokeWidth":1},
      "encoding":{"x":{"field":"x","type":"quantitative","axis":null},"x2":{"field":"x2"},"y":{"field":"v","type":"quantitative","axis":null},"y2":{"field":"v2"},
       "color":{"condition":[{"test":"datum.k == 'red'","value":"#f05050"},{"test":"datum.k == 'gray'","value":"#9a9a9a"}],"value":"#707070"},
       "strokeWidth":{"condition":{"test":"datum.k == 'gray'","value":1.5},"value":1}}},
     {"data":{"name":"rr"},"transform":[{"filter":"datum.k == 'b'"}],"mark":{"type":"line","color":"#f47a7a","strokeWidth":1},
      "encoding":{"x":{"field":"x","type":"quantitative","axis":null},"y":{"field":"v","type":"quantitative","axis":null}}},
     {"data":{"name":"rr"},"transform":[{"filter":"datum.k == 'a'"}],"mark":{"type":"line","color":"#000000","strokeWidth":1.4},
      "encoding":{"x":{"field":"x","type":"quantitative","axis":null},"y":{"field":"v","type":"quantitative","axis":null}}},
     {"data":{"values":[{"t":"50"}]},"mark":{"type":"rect","color":"#f03030"},
      "encoding":{"x":{"datum":288,"axis":null},"x2":{"datum":295},"y":{"datum":56.4,"axis":null},"y2":{"datum":43.6}}},
     {"data":{"values":[{"t":"50"}]},"mark":{"type":"text","align":"left","baseline":"middle","fontSize":3.8,"color":"#ffffff"},
      "encoding":{"x":{"datum":289,"axis":null},"y":{"datum":50,"axis":null},"text":{"field":"t"}}},
     {"data":{"values":[{"t":"RSI(7) 41.4407 RSI(14) 37.9665"}]},"mark":{"type":"text","align":"left","baseline":"middle","fontSize":3.8,"color":"#333333"},
      "encoding":{"x":{"datum":2,"axis":null},"y":{"datum":94,"axis":null},"text":{"field":"t"}}},
     {"data":{"name":"rt"},"mark":{"type":"text","align":"left","baseline":"middle","fontSize":3.6,"color":"#333333"},
      "encoding":{"x":{"field":"x","type":"quantitative","axis":null},"y":{"datum":-7.1,"axis":null},"text":{"field":"t"}}}
    ]}
  ]}
]
}
